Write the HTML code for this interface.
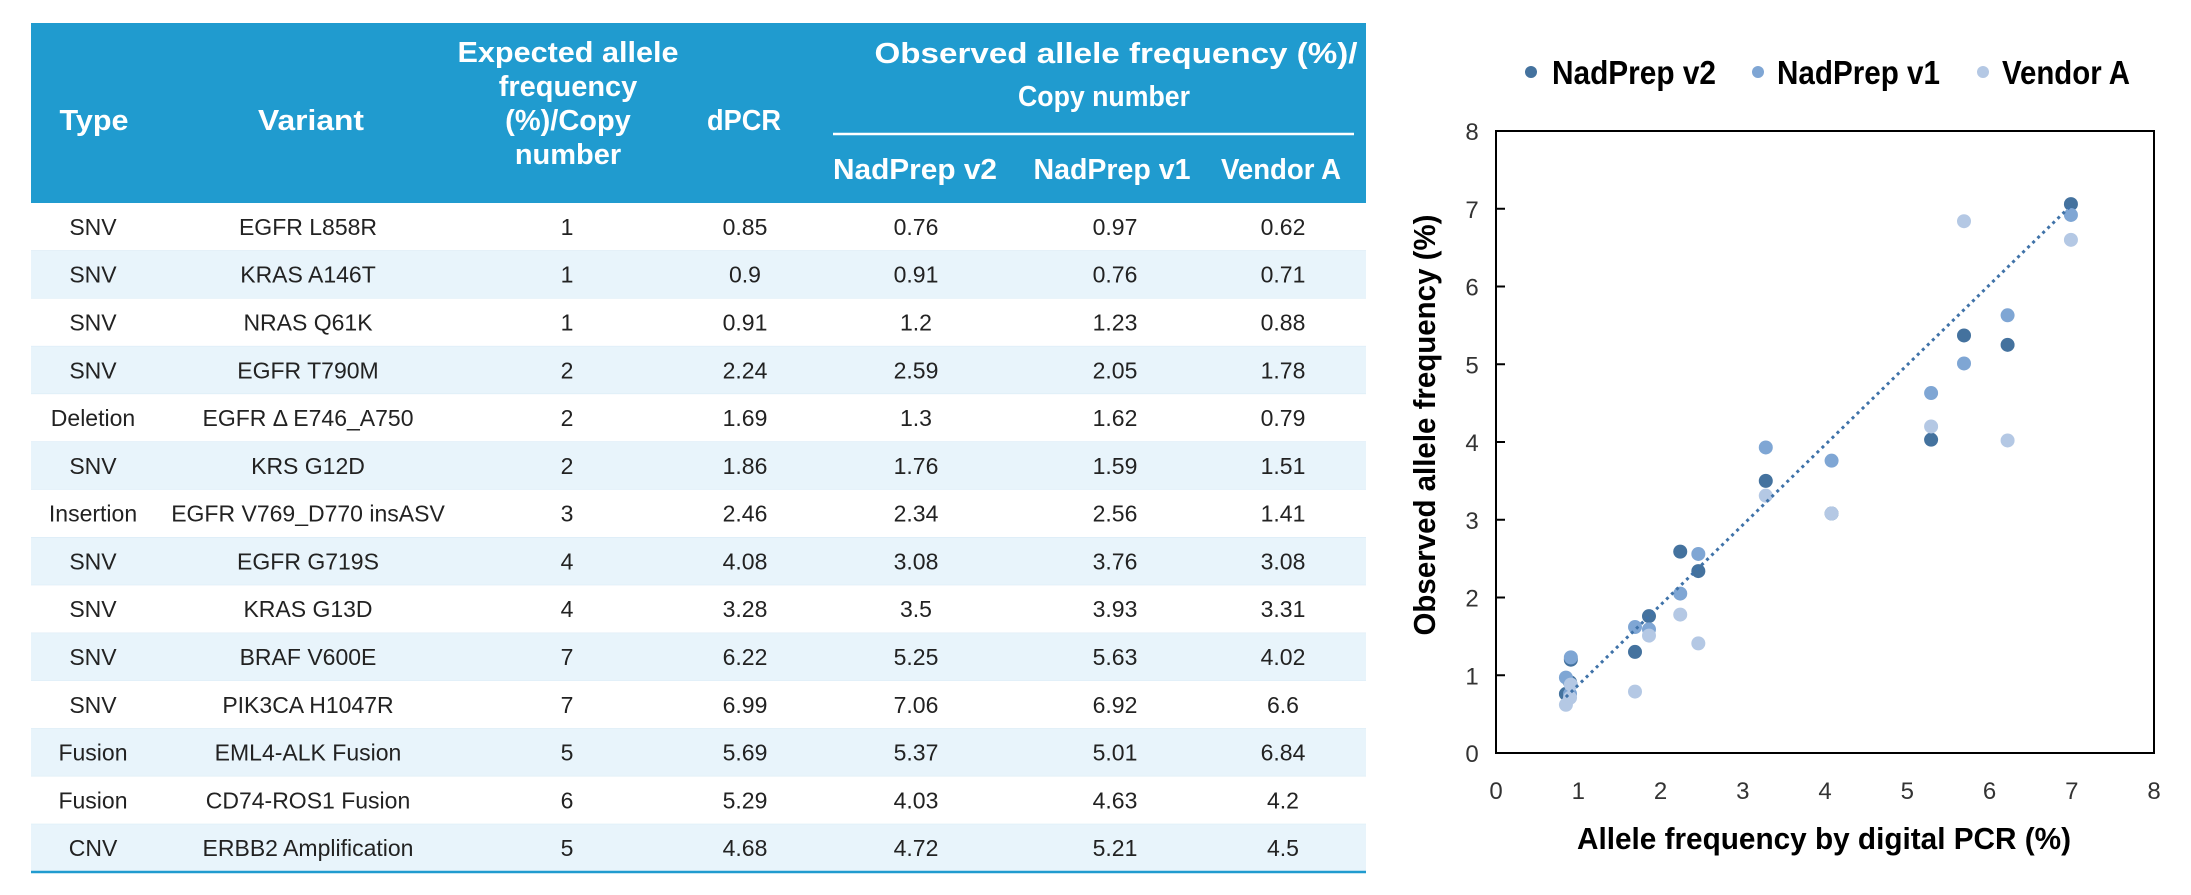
<!DOCTYPE html>
<html><head><meta charset="utf-8"><style>
html,body{margin:0;padding:0;background:#fff;}
svg{display:block;}
text{font-family:"Liberation Sans",sans-serif;}
.h{fill:#fff;font-weight:bold;font-size:29px;text-anchor:middle;}
.d{fill:#222;font-size:23px;text-anchor:middle;}
.t{fill:#333;font-size:24px;text-anchor:middle;}
.b{fill:#000;font-weight:bold;font-size:31px;}
.lg{fill:#000;font-weight:bold;font-size:33px;}
</style></head><body>
<svg width="2191" height="895" viewBox="0 0 2191 895" xmlns="http://www.w3.org/2000/svg">
<rect x="31" y="23" width="1335" height="180" fill="#209bcf"/>
<g id="rows"></g>
<line x1="31" y1="872" x2="1366" y2="872" stroke="#209bcf" stroke-width="2.5"/>
<line x1="833" y1="134" x2="1354" y2="134" stroke="#fff" stroke-width="2.5"/>
<text class="h" x="94" y="130" textLength="69" lengthAdjust="spacingAndGlyphs">Type</text>
<text class="h" x="311" y="130" textLength="106" lengthAdjust="spacingAndGlyphs">Variant</text>
<text class="h" x="568" y="62" textLength="221" lengthAdjust="spacingAndGlyphs">Expected allele</text>
<text class="h" x="568" y="96">frequency</text>
<text class="h" x="568" y="130">(%)/Copy</text>
<text class="h" x="568" y="164">number</text>
<text class="h" x="744" y="130" textLength="74" lengthAdjust="spacingAndGlyphs">dPCR</text>
<text class="h" x="1116" y="63" textLength="483" lengthAdjust="spacingAndGlyphs">Observed allele frequency (%)/</text>
<text class="h" x="1104" y="106" textLength="172" lengthAdjust="spacingAndGlyphs">Copy number</text>
<text class="h" x="915" y="179" textLength="164" lengthAdjust="spacingAndGlyphs">NadPrep v2</text>
<text class="h" x="1112" y="179" textLength="157" lengthAdjust="spacingAndGlyphs">NadPrep v1</text>
<text class="h" x="1281" y="179" textLength="120" lengthAdjust="spacingAndGlyphs">Vendor A</text>

<!-- chart -->
<rect x="1496" y="131" width="658" height="622" fill="none" stroke="#000" stroke-width="2"/>
<g stroke="#000" stroke-width="2">
<line x1="1496" y1="208.75" x2="1505" y2="208.75"/><line x1="1496" y1="286.5" x2="1505" y2="286.5"/>
<line x1="1496" y1="364.25" x2="1505" y2="364.25"/><line x1="1496" y1="442" x2="1505" y2="442"/>
<line x1="1496" y1="519.75" x2="1505" y2="519.75"/><line x1="1496" y1="597.5" x2="1505" y2="597.5"/>
<line x1="1496" y1="675.25" x2="1505" y2="675.25"/>
</g>
<g class="t" id="ylab"></g>
<g id="pts"></g>
<text class="b" x="0" y="0" text-anchor="middle" textLength="421" lengthAdjust="spacingAndGlyphs" transform="translate(1435,425) rotate(-90)">Observed allele frequency (%)</text>
<text class="b" x="1824" y="849" text-anchor="middle" textLength="494" lengthAdjust="spacingAndGlyphs">Allele frequency by digital PCR (%)</text>
<circle cx="1531" cy="72" r="6" fill="#44729e"/><text class="lg" x="1552" y="84" textLength="164" lengthAdjust="spacingAndGlyphs">NadPrep v2</text>
<circle cx="1758" cy="72" r="6" fill="#7fa6d4"/><text class="lg" x="1777" y="84" textLength="163" lengthAdjust="spacingAndGlyphs">NadPrep v1</text>
<circle cx="1983" cy="72" r="6" fill="#b4c8e4"/><text class="lg" x="2002" y="84" textLength="128" lengthAdjust="spacingAndGlyphs">Vendor A</text>
</svg>
<script>
const NS="http://www.w3.org/2000/svg";
const data=[
["SNV","EGFR L858R","1","0.85","0.76","0.97","0.62"],
["SNV","KRAS A146T","1","0.9","0.91","0.76","0.71"],
["SNV","NRAS Q61K","1","0.91","1.2","1.23","0.88"],
["SNV","EGFR T790M","2","2.24","2.59","2.05","1.78"],
["Deletion","EGFR Δ E746_A750","2","1.69","1.3","1.62","0.79"],
["SNV","KRS G12D","2","1.86","1.76","1.59","1.51"],
["Insertion","EGFR V769_D770 insASV","3","2.46","2.34","2.56","1.41"],
["SNV","EGFR G719S","4","4.08","3.08","3.76","3.08"],
["SNV","KRAS G13D","4","3.28","3.5","3.93","3.31"],
["SNV","BRAF V600E","7","6.22","5.25","5.63","4.02"],
["SNV","PIK3CA H1047R","7","6.99","7.06","6.92","6.6"],
["Fusion","EML4-ALK Fusion","5","5.69","5.37","5.01","6.84"],
["Fusion","CD74-ROS1 Fusion","6","5.29","4.03","4.63","4.2"],
["CNV","ERBB2 Amplification","5","4.68","4.72","5.21","4.5"]];
const cx=[93,308,567,745,916,1115,1283];
const rows=document.getElementById("rows");
const rh=(872-203)/14;
data.forEach((r,i)=>{
 const y=203+i*rh;
 const rc=document.createElementNS(NS,"rect");
 rc.setAttribute("x",31);rc.setAttribute("y",y);rc.setAttribute("width",1335);rc.setAttribute("height",rh);
 rc.setAttribute("fill",i%2?"#e8f4fb":"#fff");rows.appendChild(rc);
 const ln=document.createElementNS(NS,"line");
 ln.setAttribute("x1",31);ln.setAttribute("x2",1366);ln.setAttribute("y1",y+rh);ln.setAttribute("y2",y+rh);
 ln.setAttribute("stroke","#d6e9f5");ln.setAttribute("stroke-width","1");rows.appendChild(ln);
 r.forEach((v,j)=>{
  const t=document.createElementNS(NS,"text");
  t.setAttribute("class","d");t.setAttribute("x",cx[j]);t.setAttribute("y",y+rh/2+8);
  t.textContent=v;rows.appendChild(t);
 });
});
const X=v=>1496+v*82.25, Y=v=>753-v*77.75;
const yl=document.getElementById("ylab");
for(let k=0;k<=8;k++){
 let t=document.createElementNS(NS,"text");t.setAttribute("class","t");
 t.setAttribute("x",1472);t.setAttribute("y",Y(k)+9);t.textContent=k;yl.appendChild(t);
 t=document.createElementNS(NS,"text");t.setAttribute("class","t");
 t.setAttribute("x",X(k));t.setAttribute("y",799);t.textContent=k;yl.appendChild(t);
}
const pts=document.getElementById("pts");
const cols=["#44729e","#7fa6d4","#b4c8e4"];
const tl=document.createElementNS(NS,"line");
tl.setAttribute("x1",X(0.85));tl.setAttribute("y1",Y(0.72));tl.setAttribute("x2",X(7));tl.setAttribute("y2",Y(7.05));
tl.setAttribute("stroke","#3f72a8");tl.setAttribute("stroke-width","3");tl.setAttribute("stroke-dasharray","3 4");
[0,1,2].forEach(s=>{
 data.slice(0,13).forEach(r=>{
  const c=document.createElementNS(NS,"circle");
  c.setAttribute("cx",X(+r[3]));c.setAttribute("cy",Y(+r[4+s]));c.setAttribute("r",7);
  c.setAttribute("fill",cols[s]);pts.appendChild(c);
 });
});
pts.appendChild(tl);
</script>
</body></html>
